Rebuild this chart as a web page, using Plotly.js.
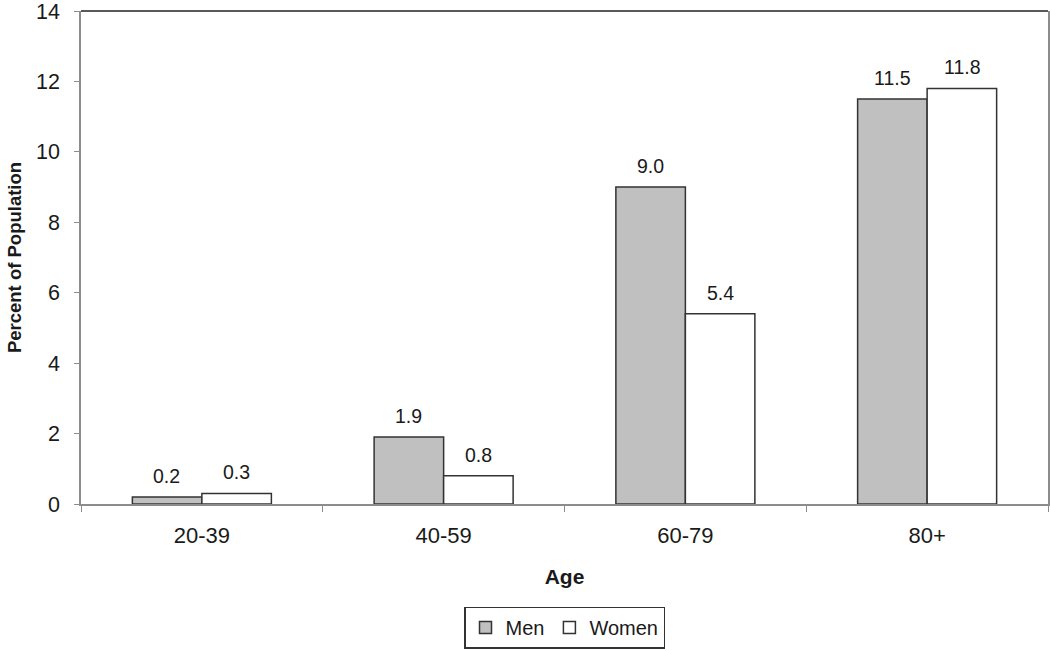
<!DOCTYPE html>
<html>
<head>
<meta charset="utf-8">
<script src="https://cdn.plot.ly/plotly-3.0.1.min.js"></script>
<style>
  html, body { margin: 0; padding: 0; background: #fff; overflow: hidden; }
  #chart { width: 1050px; height: 651px; }
</style>
</head>
<body>
<div id="chart"></div>
<script>
// ── Data ─────────────────────────────────────────────────────────────────────
const ageGroups   = ['20-39', '40-59', '60-79', '80+'];
const menValues   = [0.2, 1.9, 9.0, 11.5];
const womenValues = [0.3, 0.8, 5.4, 11.8];
const yTickVals   = [0, 2, 4, 6, 8, 10, 12, 14];

// ── Styles ───────────────────────────────────────────────────────────────────
const FONT    = 'Liberation Sans, Arial, sans-serif';
const AXIS_C  = '#8c8c8c';
const EDGE_C  = '#333333';
const BAR_OFF = 35;   // half a bar width, px

const barTrace = (name, y, fill) => ({
  type: 'bar', name, x: ageGroups, y,
  marker: { color: fill, line: { color: EDGE_C, width: 1.5 } },
  hoverinfo: 'x+y+name',
});

const traces = [
  barTrace('Men',   menValues,   '#c0c0c0'),
  barTrace('Women', womenValues, '#ffffff'),
];

// value labels above each bar, placed on the data scale
const valueLabels = (y, shift) => y.map((v, i) => ({
  x: ageGroups[i], y: v, xref: 'x', yref: 'y',
  text: v.toFixed(1), showarrow: false,
  xshift: shift, yshift: 8, yanchor: 'bottom',
  font: { family: FONT, size: 19.5, color: '#1a1a1a' },
}));

const layout = {
  width: 1050, height: 651,
  paper_bgcolor: '#fff', plot_bgcolor: '#fff',
  margin: { l: 81, r: 2, t: 11, b: 147, autoexpand: false },
  font: { family: FONT, size: 21, color: '#1a1a1a' },
  barmode: 'group', bargap: 0.425, bargroupgap: 0,
  showlegend: true,
  legend: {
    orientation: 'h', x: 0.5, xanchor: 'center', y: -0.208, yanchor: 'top',
    bordercolor: EDGE_C, borderwidth: 1.5,
    font: { family: FONT, size: 20, color: '#1a1a1a' },
    itemwidth: 30, tracegroupgap: 0,
  },
  xaxis: {
    type: 'category', automargin: false,
    showline: true, linecolor: AXIS_C, linewidth: 1.5,
    ticks: 'outside', tickson: 'boundaries', ticklen: 6, tickcolor: AXIS_C,
    ticklabelstandoff: 11,
    tickfont: { family: FONT, size: 22 },
    showgrid: false,
    title: { text: 'Age', font: { family: FONT, size: 21, weight: 'bold' }, standoff: 22 },
  },
  yaxis: {
    range: [0, 14], tickvals: yTickVals, automargin: false,
    ticklabeloverflow: 'allow', ticklabelstandoff: 10,
    showline: true, linecolor: AXIS_C, linewidth: 1.5, mirror: true,
    ticks: 'outside', ticklen: 5, tickcolor: AXIS_C,
    tickfont: { family: FONT, size: 21.5 },
    showgrid: false, zeroline: false,
    title: { text: 'Percent of Population', font: { family: FONT, size: 18.5, weight: 'bold' }, standoff: 10 },
  },
  annotations: [
    ...valueLabels(menValues, -BAR_OFF),
    ...valueLabels(womenValues, BAR_OFF),
  ],
  shapes: [{
    type: 'line', xref: 'paper', yref: 'paper',
    x0: 0, x1: 1, y0: 1, y1: 1,
    line: { color: '#222', width: 1.5 },
  }],
};

Plotly.newPlot('chart', traces, layout, { displayModeBar: false, responsive: false });
</script>
</body>
</html>
